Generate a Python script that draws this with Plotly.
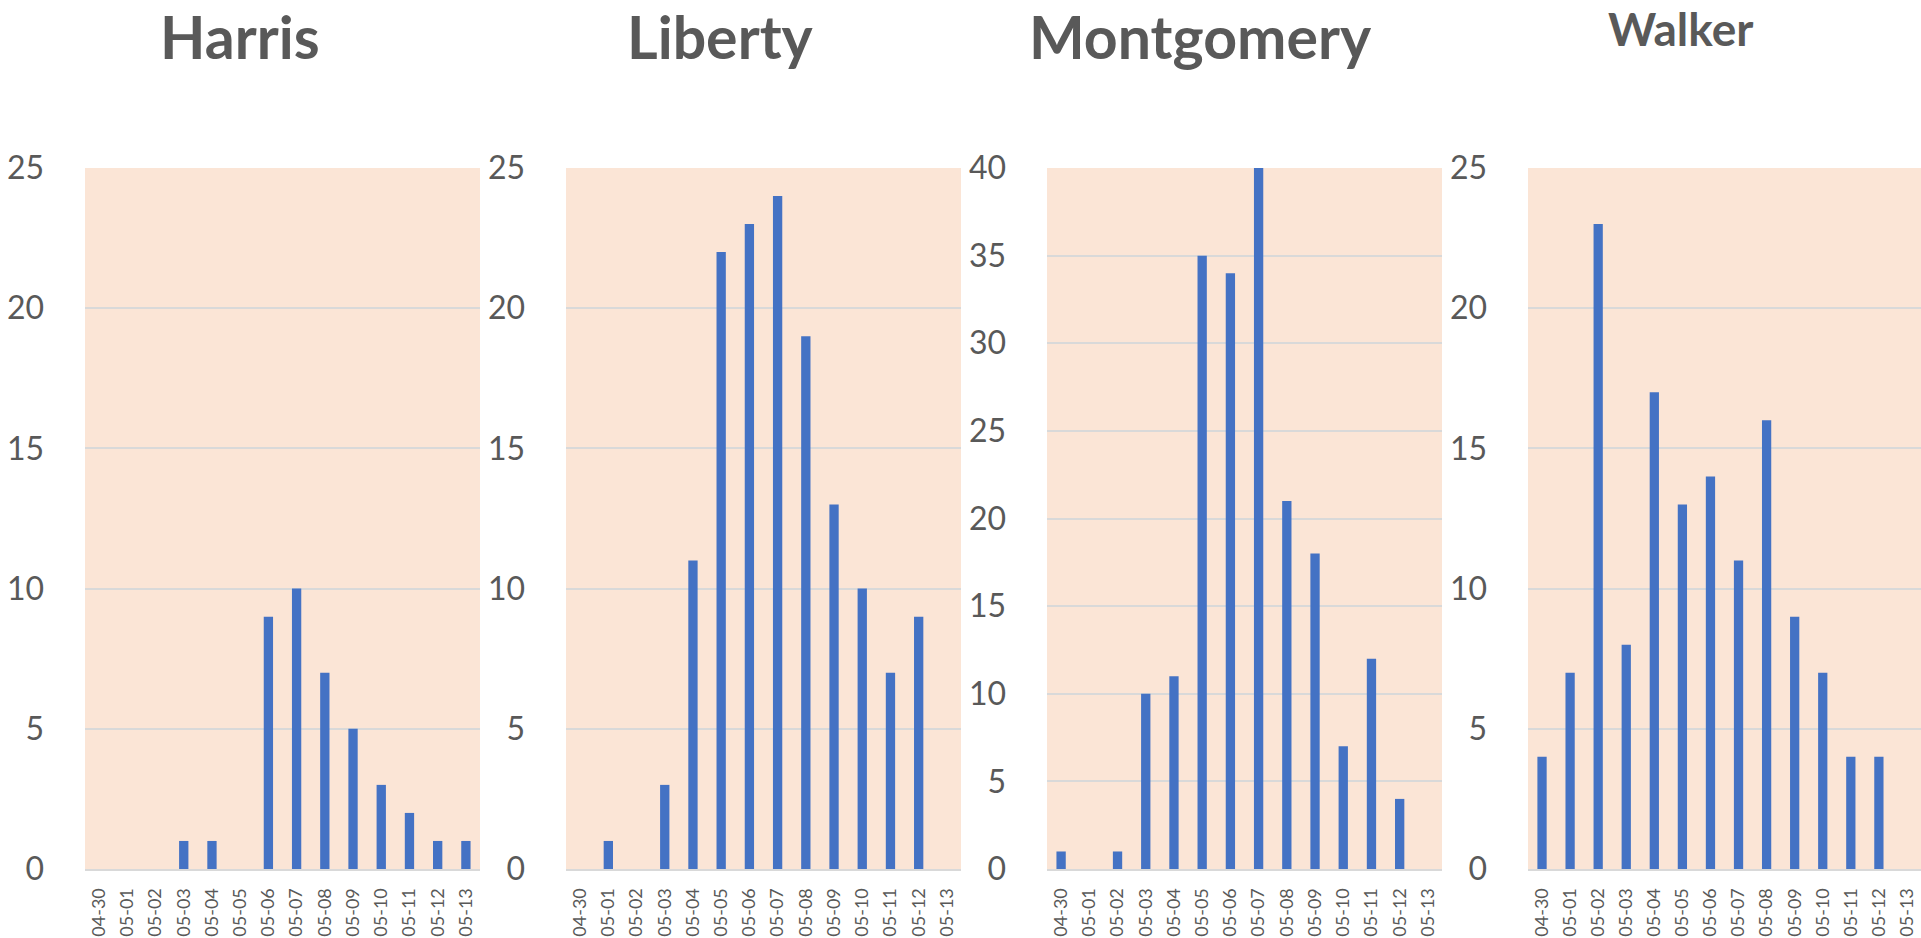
import plotly.graph_objects as go

dates = ["04-30", "05-01", "05-02", "05-03", "05-04", "05-05", "05-06",
         "05-07", "05-08", "05-09", "05-10", "05-11", "05-12", "05-13"]
counties = ["Harris", "Liberty", "Montgomery", "Walker"]
harris = [0, 0, 0, 1, 1, 0, 9, 10, 7, 5, 3, 2, 1, 1]
liberty = [0, 1, 0, 3, 11, 22, 23, 24, 19, 13, 10, 7, 9, 0]
montgomery = [1, 0, 1, 10, 11, 35, 34, 40, 21, 18, 7, 12, 4, 0]
walker = [4, 7, 23, 8, 17, 13, 14, 11, 16, 9, 7, 4, 4, 0]
series = [harris, liberty, montgomery, walker]
y_max = [25, 25, 40, 25]

W, H = 1921, 938
TOP, BOTTOM = 168, 69
# plot areas in pixels
px_domains = [(85, 480), (566, 961), (1047, 1442), (1528, 1921)]
title_x = [240, 720, 1200, 1680]
title_y = [36, 36, 36, 28]
title_size = [59, 59, 59, 46]

FONT = "Lato"
GRAY = "#595959"
GRID = "#D9D9D9"
BAR = "#4472C4"
BG = "#FBE5D6"

fig = go.Figure()
layout = dict(
    width=W, height=H,
    margin=dict(l=0, r=0, t=TOP, b=BOTTOM, pad=0),
    paper_bgcolor="white",
    plot_bgcolor=BG,
    showlegend=False,
    bargap=0.67,
    font=dict(family=FONT, color=GRAY),
    annotations=[],
)

plot_h = H - TOP - BOTTOM
for i, (name, vals) in enumerate(zip(counties, series)):
    n = "" if i == 0 else str(i + 1)
    fig.add_trace(go.Bar(x=dates, y=vals, marker=dict(color=BAR, line=dict(width=0)),
                         xaxis="x" + n, yaxis="y" + n, name=name))
    x0, x1 = px_domains[i]
    layout["xaxis" + n] = dict(
        domain=[x0 / W, min(x1 / W, 1.0)],
        anchor="y" + n,
        type="category",
        categoryorder="array", categoryarray=dates,
        tickangle=-90,
        tickfont=dict(family=FONT, size=18, color=GRAY),
        showgrid=False,
        showline=True, linecolor=GRID, linewidth=2,
        ticks="",
        ticklabelstandoff=10,
        fixedrange=True,
    )
    layout["yaxis" + n] = dict(
        domain=[0, 1],
        anchor="x" + n,
        range=[0, y_max[i]],
        dtick=5,
        tick0=0,
        showgrid=True, gridcolor=GRID, gridwidth=1.5,
        zeroline=False,
        showline=False,
        ticks="",
        tickfont=dict(family=FONT, size=32, color=GRAY),
        ticklabelstandoff=40,
        fixedrange=True,
    )
    layout["annotations"].append(dict(
        text="<b>" + name + "</b>",
        xref="paper", yref="paper",
        x=title_x[i] / W,
        y=(H - BOTTOM - title_y[i]) / plot_h,
        xanchor="center", yanchor="middle",
        showarrow=False,
        font=dict(family=FONT, size=title_size[i], color=GRAY),
    ))

fig.update_layout(**layout)
fig.write_html(
    "out.html",
    config={"displayModeBar": False},
    post_script="document.body.style.margin='0';document.body.style.overflow='hidden';",
)
